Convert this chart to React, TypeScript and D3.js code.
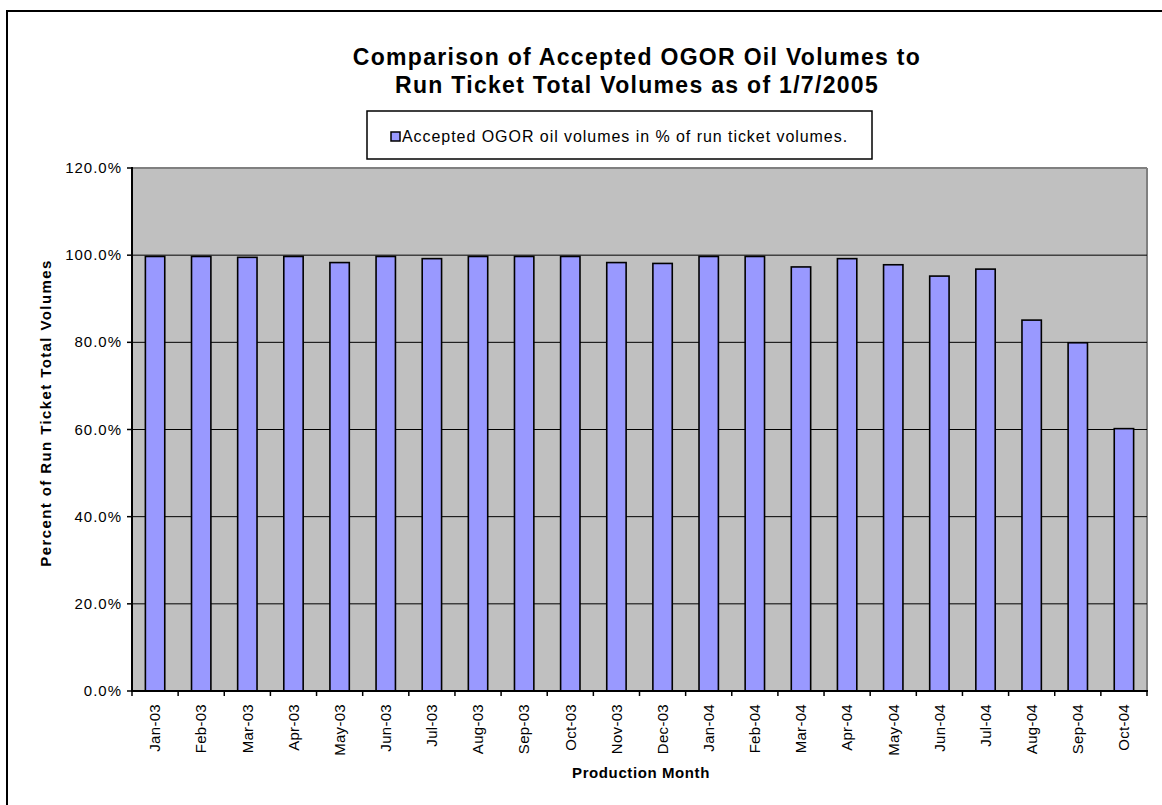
import React from "react";
import * as d3 from "d3";

const months = [
  "Jan-03", "Feb-03", "Mar-03", "Apr-03", "May-03", "Jun-03", "Jul-03", "Aug-03",
  "Sep-03", "Oct-03", "Nov-03", "Dec-03", "Jan-04", "Feb-04", "Mar-04", "Apr-04",
  "May-04", "Jun-04", "Jul-04", "Aug-04", "Sep-04", "Oct-04",
];
const acceptedPct = [
  99.7, 99.7, 99.5, 99.7, 98.3, 99.7, 99.2, 99.7, 99.7, 99.7, 98.3, 98.1,
  99.7, 99.7, 97.3, 99.2, 97.8, 95.2, 96.8, 85.1, 79.9, 60.2,
];
const yTicks = [0, 20, 40, 60, 80, 100, 120];
const titleLines = [
  "Comparison of Accepted OGOR Oil Volumes to",
  "Run Ticket Total Volumes as of 1/7/2005",
];
const legendLabel = "Accepted OGOR oil volumes in % of run ticket volumes.";
const xTitle = "Production Month";
const yTitle = "Percent of Run Ticket Total Volumes";

const W = 1162;
const H = 805;
const plot = { left: 132, right: 1147, top: 168, bottom: 691 };
const FONT = "Arial, 'Liberation Sans', Helvetica, sans-serif";

export default function App() {
  const x = d3
    .scaleBand<string>()
    .domain(months)
    .range([plot.left, plot.right])
    .paddingInner(0.58)
    .paddingOuter(0.29);
  const slot = d3.scaleBand<string>().domain(months).range([plot.left, plot.right]).padding(0);
  const y = d3.scaleLinear().domain([0, 120]).range([plot.bottom, plot.top]);

  return (
    <svg
      width={W}
      height={H}
      style={{ position: "absolute", left: 0, top: 0, background: "#fff" }}
      fontFamily={FONT}
    >
      <rect x={7} y={11} width={1300} height={1000} fill="#fff" stroke="#000" strokeWidth={2} />

      {/* Title */}
      {titleLines.map((t, i) => (
        <text
          key={i}
          x={637}
          y={65 + i * 28}
          textAnchor="middle"
          fontSize={23}
          fontWeight="bold"
          letterSpacing={1.3}
          fill="#000"
        >
          {t}
        </text>
      ))}

      {/* Legend */}
      <rect x={367} y={111} width={505} height={48} fill="#fff" stroke="#000" strokeWidth={1.5} />
      <rect x={391} y={132} width={9} height={9} fill="#9999FF" stroke="#000" strokeWidth={1.5} />
      <text x={402} y={142} fontSize={16} letterSpacing={0.95} fill="#000">
        {legendLabel}
      </text>

      {/* Plot area */}
      <rect
        x={plot.left}
        y={plot.top}
        width={plot.right - plot.left}
        height={plot.bottom - plot.top}
        fill="#C0C0C0"
      />
      <line x1={plot.left} x2={plot.right} y1={plot.top} y2={plot.top} stroke="#808080" strokeWidth={2} />
      <line x1={plot.right} x2={plot.right} y1={plot.top} y2={plot.bottom} stroke="#808080" strokeWidth={2} />

      {/* Gridlines */}
      {yTicks
        .filter((t) => t > 0 && t < 120)
        .map((t) => (
          <line
            key={t}
            x1={plot.left}
            x2={plot.right}
            y1={y(t)}
            y2={y(t)}
            stroke="#000"
            strokeWidth={1}
          />
        ))}

      {/* Bars */}
      {months.map((m, i) => (
        <rect
          key={m}
          x={x(m)!}
          y={y(acceptedPct[i])}
          width={x.bandwidth()}
          height={y(0) - y(acceptedPct[i])}
          fill="#9999FF"
          stroke="#000"
          strokeWidth={1.6}
        />
      ))}

      {/* Axes */}
      <line x1={plot.left} x2={plot.left} y1={plot.top - 1} y2={plot.bottom} stroke="#000" strokeWidth={2} />
      <line x1={plot.left - 1} x2={plot.right + 1} y1={plot.bottom} y2={plot.bottom} stroke="#000" strokeWidth={2} />

      {yTicks.map((t) => (
        <g key={t}>
          <line x1={plot.left - 5} x2={plot.left} y1={y(t)} y2={y(t)} stroke="#000" strokeWidth={1.5} />
          <text x={plot.left - 10} y={y(t) + 5} textAnchor="end" fontSize={15} letterSpacing={1} fill="#000">
            {t.toFixed(1) + "%"}
          </text>
        </g>
      ))}

      {months.map((m) => (
        <line
          key={"t" + m}
          x1={slot(m)!}
          x2={slot(m)!}
          y1={plot.bottom}
          y2={plot.bottom + 5}
          stroke="#000"
          strokeWidth={1.5}
        />
      ))}
      <line x1={plot.right} x2={plot.right} y1={plot.bottom} y2={plot.bottom + 5} stroke="#000" strokeWidth={1.5} />

      {months.map((m) => {
        const px = x(m)! + x.bandwidth() / 2;
        const py = plot.bottom + 13;
        return (
          <text
            key={"l" + m}
            x={px}
            y={py}
            transform={`rotate(-90, ${px}, ${py})`}
            textAnchor="end"
            dy="0.35em"
            fontSize={15}
            letterSpacing={0.3}
            fill="#000"
          >
            {m}
          </text>
        );
      })}

      <text x={641} y={778} textAnchor="middle" fontSize={15} fontWeight="bold" letterSpacing={0.6} fill="#000">
        {xTitle}
      </text>
      <text
        x={51}
        y={413}
        transform={`rotate(-90, 51, 413)`}
        textAnchor="middle"
        fontSize={15}
        fontWeight="bold"
        letterSpacing={1.4}
        fill="#000"
      >
        {yTitle}
      </text>
    </svg>
  );
}
